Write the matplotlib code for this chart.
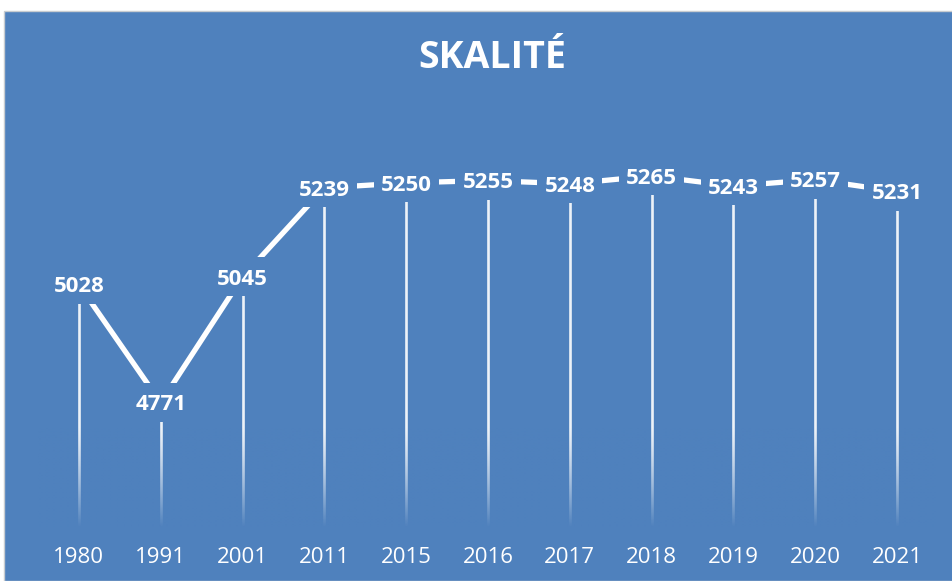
import numpy as np
import matplotlib
matplotlib.use('Agg')
import matplotlib.pyplot as plt
from matplotlib.colors import to_rgb
from matplotlib.patches import Rectangle
from matplotlib.transforms import Affine2D, ScaledTranslation

years = ['1980', '1991', '2001', '2011', '2015', '2016', '2017', '2018', '2019', '2020', '2021']
population = [5028, 4771, 5045, 5239, 5250, 5255, 5248, 5265, 5243, 5257, 5231]

bg = '#4F81BD'
plt.rcParams['font.family'] = ['Open Sans', 'DejaVu Sans']

fig = plt.figure(figsize=(9.53, 5.81), dpi=100, facecolor='white')
# blue chart area with the small white margin on top/left
fig.patches.append(Rectangle((4 / 953, 0), 1, 1 - 11 / 581, transform=fig.transFigure,
                             facecolor=bg, edgecolor='#C8CCD0', linewidth=1, zorder=-10))

ax = fig.add_axes([38 / 953, 54 / 581, 900 / 953, 413 / 581])
ax.set_facecolor('none')
ymin, ymax = 4500, 5400

x = np.arange(len(years))

# drop lines
ax.vlines(x, ymin, population, colors='white', alpha=0.9, linewidth=1.9, zorder=2)

# fade the drop lines out towards the bottom with a background-coloured gradient
grad = np.zeros((100, 2, 4))
grad[..., :3] = to_rgb(bg)
grad[..., 3] = np.linspace(1, 0, 100)[:, None] ** 1.3
ax.imshow(grad, extent=(-0.5, len(years) - 0.5, ymin, 4720), origin='lower',
          aspect='auto', interpolation='bilinear', zorder=2.5)

ax.plot(x, population, color='white', linewidth=3.8, solid_capstyle='butt', zorder=3)

# data labels with a background box that cuts the lines
for xi, v in zip(x, population):
    tr = Affine2D().scale(fig.dpi / 72) + ScaledTranslation(xi, v, ax.transData)
    box = Rectangle((-23.5, -14), 47, 28, transform=tr, facecolor=bg, edgecolor='none',
                    zorder=4, clip_on=False)
    ax.add_artist(box)
    ax.annotate(str(v), (xi, v), xytext=(0, -5.6), textcoords='offset points',
                ha='center', va='baseline', color='white', fontsize=16,
                fontweight='bold', zorder=5)

ax.set_xticks(x)
ax.set_xticklabels(years, fontsize=16, color='white')
ax.tick_params(axis='x', length=0, pad=14.5)
ax.set_yticks([])
for s in ax.spines.values():
    s.set_visible(False)
ax.set_xlim(-0.5, len(years) - 0.5)
ax.set_ylim(ymin, ymax)

fig.text(492 / 953, 1 - 58 / 581, 'SKALITÉ', ha='center', va='center', color='white',
         fontsize=27, fontweight='bold')

fig.savefig('out.png', dpi=100, facecolor='white')
